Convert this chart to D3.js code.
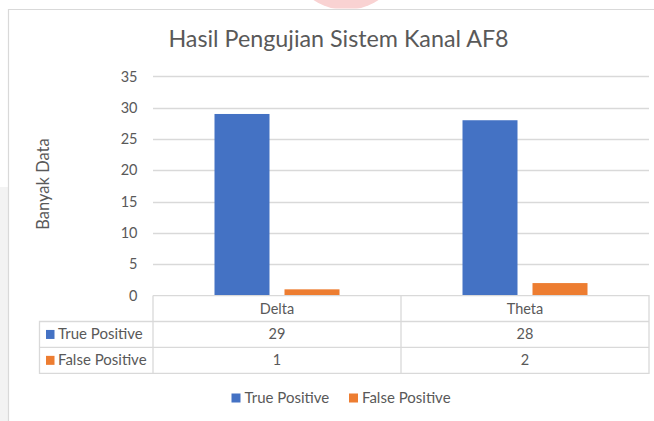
<!DOCTYPE html>
<html>
<head>
<meta charset="utf-8">
<script src="https://cdn.jsdelivr.net/npm/d3@7"></script>
<style>
  html, body { margin: 0; padding: 0; background: #fff; }
  svg { display: block; font-family: Lato, "Open Sans", sans-serif; }
</style>
</head>
<body>
<svg id="chart" width="654" height="421"></svg>
<script>
// ---- data ----
const title = "Hasil Pengujian Sistem Kanal AF8";
const yAxisTitle = "Banyak Data";
const categories = ["Delta", "Theta"];
const seriesNames = ["True Positive", "False Positive"];
const truePositive = [29, 28];
const falsePositive = [1, 2];
const yTicks = [0, 5, 10, 15, 20, 25, 30, 35];
const colors = ["#4472C4", "#ED7D31"];

const seriesValues = [truePositive, falsePositive];

const svg = d3.select("#chart");
const textColor = "#595959";
const gridColor = "#d9d9d9";

// background details (page around the chart)
svg.append("rect").attr("x", 0).attr("y", 187).attr("width", 8).attr("height", 234).attr("fill", "#f3f3f3");
svg.append("defs").append("clipPath").attr("id", "topclip")
  .append("rect").attr("x", 0).attr("y", 0).attr("width", 654).attr("height", 8.5);
svg.append("circle").attr("cx", 346).attr("cy", -48).attr("r", 58)
  .attr("fill", "#f9d2d2").attr("clip-path", "url(#topclip)");
// chart border
svg.append("path").attr("d", "M8.5,421 V9.5 H654").attr("fill", "none").attr("stroke", "#d9d9d9").attr("stroke-width", 1.2);

// ---- scales ----
const plotLeft = 153, plotRight = 649, plotTop = 76.4, plotBottom = 295.6;
const y = d3.scaleLinear().domain([0, 35]).range([plotBottom, plotTop]);
const x0 = d3.scaleBand().domain(categories).range([plotLeft, plotRight]).paddingInner(0).paddingOuter(0);
const x1 = d3.scaleBand().domain(seriesNames).range([61.5, x0.bandwidth() - 61.5]).paddingInner(0.2143).paddingOuter(0);

// gridlines
svg.append("g").selectAll("line").data(yTicks.filter(d => d > 0)).join("line")
  .attr("x1", plotLeft).attr("x2", plotRight)
  .attr("y1", d => Math.round(y(d)) + 0.5).attr("y2", d => Math.round(y(d)) + 0.5)
  .attr("stroke", gridColor).attr("stroke-width", 1.3);

// y axis labels
const yAxis = d3.axisLeft(y).tickValues(yTicks).tickSize(0).tickPadding(0);
const gy = svg.append("g").attr("transform", `translate(137.5,0)`).call(yAxis);
gy.select(".domain").remove();
gy.selectAll("text").attr("fill", textColor).style("font-size", "14.5px").style("font-family", "Lato, sans-serif");

// bars
const groups = svg.append("g").selectAll("g").data(categories).join("g")
  .attr("transform", d => `translate(${x0(d)},0)`);
groups.selectAll("rect").data((c, ci) => seriesNames.map((s, si) => ({ s, si, v: seriesValues[si][ci] }))).join("rect")
  .attr("x", d => x1(d.s)).attr("width", x1.bandwidth())
  .attr("y", d => y(d.v)).attr("height", d => y(0) - y(d.v))
  .attr("fill", d => colors[d.si]);

// title
svg.append("text").attr("x", 338.5).attr("y", 47).attr("text-anchor", "middle")
  .attr("fill", textColor).style("font-size", "23.3px").text(title);

// y-axis title
svg.append("text").attr("transform", "translate(49,184) rotate(-90)").attr("text-anchor", "middle")
  .attr("fill", textColor).style("font-size", "16.5px").text(yAxisTitle);

// ---- data table ----
const rowH = [plotBottom, 321.5, 347.4, 373.3];
const tableLeft = 39.5;
const tg = svg.append("g");
const lineAttrs = sel => sel.attr("stroke", gridColor).attr("stroke-width", 1.3).attr("fill", "none");
tg.append("path").attr("d", `M${plotLeft},${rowH[0]} H${plotRight} V${rowH[3]} H${tableLeft} V${rowH[1]} H${plotRight}`).call(lineAttrs);
tg.append("line").attr("x1", plotLeft).attr("x2", plotLeft).attr("y1", rowH[0]).attr("y2", rowH[3]).call(lineAttrs);
tg.append("line").attr("x1", tableLeft).attr("x2", plotRight).attr("y1", rowH[2]).attr("y2", rowH[2]).call(lineAttrs);
categories.slice(1).forEach(c => {
  tg.append("line").attr("x1", x0(c)).attr("x2", x0(c)).attr("y1", rowH[0]).attr("y2", rowH[3]).call(lineAttrs);
});
tg.selectAll("text.cat").data(categories).join("text").attr("class", "cat")
  .attr("x", d => x0(d) + x0.bandwidth() / 2).attr("y", (rowH[0] + rowH[1]) / 2 + 5)
  .attr("text-anchor", "middle").attr("fill", textColor).style("font-size", "14.5px").text(d => d);
seriesNames.forEach((s, si) => {
  const cy = (rowH[si + 1] + rowH[si + 2]) / 2;
  tg.append("rect").attr("x", 46).attr("y", cy - 4.5).attr("width", 8.5).attr("height", 9).attr("fill", colors[si]);
  tg.append("text").attr("x", 58).attr("y", cy + 5).attr("fill", textColor).style("font-size", "15px").text(s);
  tg.selectAll(null).data(categories).join("text")
    .attr("x", d => x0(d) + x0.bandwidth() / 2).attr("y", cy + 5)
    .attr("text-anchor", "middle").attr("fill", textColor).style("font-size", "14.5px")
    .text((d, ci) => seriesValues[si][ci]);
});

// ---- legend ----
const legendX = [231.5, 349];
const lg = svg.append("g");
seriesNames.forEach((s, si) => {
  lg.append("rect").attr("x", legendX[si]).attr("y", 393.5).attr("width", 9).attr("height", 9).attr("fill", colors[si]);
  lg.append("text").attr("x", legendX[si] + 13).attr("y", 403).attr("fill", textColor).style("font-size", "15px").text(s);
});
</script>
</body>
</html>
